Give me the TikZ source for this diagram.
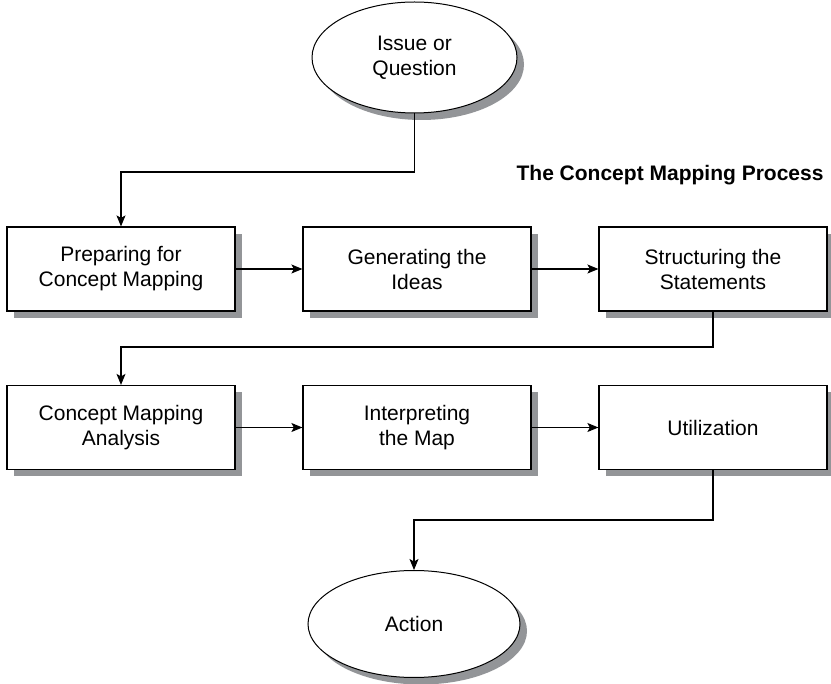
\documentclass[tikz,border=0pt]{standalone}
\usepackage{fontspec}
\setmainfont{Liberation Sans}
\usetikzlibrary{arrows.meta,shapes.geometric,shadows}
\definecolor{shadowgray}{RGB}{147,149,152}

\begin{document}
\begin{tikzpicture}[x=1pt, y=-1pt,
    box/.style={rectangle, draw, line width=1.2pt, fill=white, minimum width=228pt, minimum height=84pt, align=center, font=\fontsize{21}{25}\selectfont, drop shadow={shadow xshift=7pt, shadow yshift=-7pt, fill=shadowgray, opacity=1}},
    oval/.style={ellipse, draw, line width=1pt, fill=white, inner sep=0pt, align=center, font=\fontsize{21}{25}\selectfont, drop shadow={shadow xshift=7pt, shadow yshift=-7pt, fill=shadowgray, opacity=1}},
    link/.style={line width=1.1pt, -{Stealth[length=11pt, width=9pt, inset=2.5pt]}}]
    \useasboundingbox (0, 0) rectangle (831, 684);
    % start and end
    \node[oval, minimum width=205pt, minimum height=111pt] (issue) at (414.5, 57.5) {Issue or\\Question};
    \node[oval, minimum width=212pt, minimum height=107pt] (action) at (414, 624) {Action};
    \node[anchor=base east, font=\fontsize{21}{25}\selectfont\bfseries] (title) at (827, 181) {The Concept Mapping Process};
    % steps
    \node[box] (prep) at (121, 269) {Preparing for\\Concept Mapping};
    \node[box] (gen) at (417, 269) {Generating the\\Ideas};
    \node[box] (struct) at (713, 269) {Structuring the\\Statements};
    \node[box] (analysis) at (121, 427.5) {Concept Mapping\\Analysis};
    \node[box] (interp) at (417, 427.5) {Interpreting\\the Map};
    \node[box] (util) at (713, 427.5) {Utilization};
    % bends
    \coordinate (bend1) at (414.5, 172);
    \coordinate (bend2) at (713, 347);
    \coordinate (bend3) at (713, 520);
    \draw[link] (issue.south) -- (bend1) -| (prep.north);
    \draw[link] (prep) -- (gen);
    \draw[link] (gen) -- (struct);
    \draw[link] (struct.south) -- (bend2) -| (analysis.north);
    \draw[link] (analysis) -- (interp);
    \draw[link] (interp) -- (util);
    \draw[link] (util.south) -- (bend3) -| (action.north);
\end{tikzpicture}
\end{document}
